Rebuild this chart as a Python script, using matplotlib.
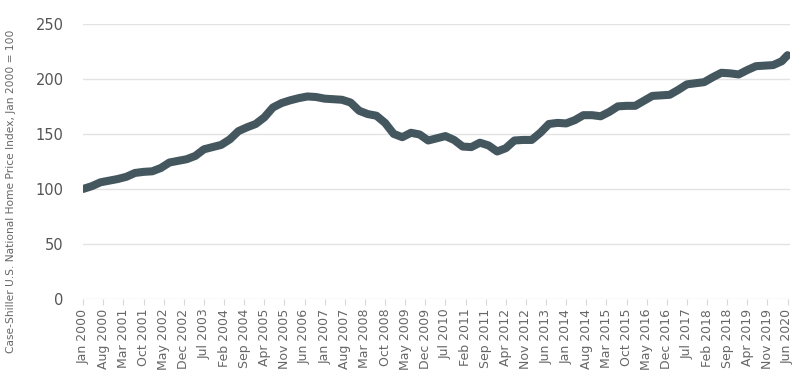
import pandas as pd
import matplotlib
matplotlib.use("Agg")
import matplotlib.pyplot as plt

# quarterly readings of the index (Jan 2000 = 100), last point Jun 2020
dates = pd.date_range("2000-01-01", "2020-04-01", freq="3MS").tolist() + [pd.Timestamp("2020-06-01")]
values = [
    100, 102.5, 106, 107.5,      # 2000
    109, 111, 114.5, 115.5,      # 2001
    116, 119, 124, 125.5,        # 2002
    127, 130, 136, 138,          # 2003
    140, 145, 152.5, 156,        # 2004
    159, 165, 174, 178,          # 2005
    180.5, 182.5, 184, 183.5,    # 2006
    182, 181.5, 181, 178.5,      # 2007
    171, 168, 166.5, 160,        # 2008
    150, 147, 151, 149.5,        # 2009
    144, 146, 148, 144.5,        # 2010
    138.5, 138, 142, 139.5,      # 2011
    134, 137, 144, 144.5,        # 2012
    144.5, 151, 159, 160,        # 2013
    159.5, 162.5, 167, 167,      # 2014
    166, 170, 175, 175.5,        # 2015
    175.5, 180, 184.5, 185,      # 2016
    185.5, 190, 195, 196,        # 2017
    197, 201.5, 205.5, 205,      # 2018
    204, 208, 211.5, 212,        # 2019
    212.5, 216, 221.5,           # 2020
]

tick_dates = pd.date_range("2000-01-01", "2020-06-01", freq="7MS")
y_ticks = [0, 50, 100, 150, 200, 250]
y_label = "Case-Shiller U.S. National Home Price Index, Jan 2000 = 100"


def month_index(d):
    return (d.year - 2000) * 12 + (d.month - 1)


x = [month_index(d) for d in dates]
tick_x = [month_index(d) for d in tick_dates]
tick_labels = [d.strftime("%b %Y") for d in tick_dates]

plt.rcParams["font.family"] = ["DejaVu Sans"]

fig = plt.figure(figsize=(8, 3.78), dpi=100)
ax = fig.add_axes([0.104, 0.209, 0.884, 0.728])

ax.plot(x, values, color="#44575f", lw=5.8, solid_joinstyle="round", solid_capstyle="round", zorder=3)

ax.set_ylim(0, 250)
ax.set_xlim(0, 246)
ax.set_yticks(y_ticks)
ax.set_xticks(tick_x)
ax.set_xticklabels(tick_labels, rotation=90, fontsize=9, color="#666666")
ax.tick_params(axis="y", length=0, pad=14, labelsize=10.5, labelcolor="#555555")
ax.tick_params(axis="x", length=4, color="#d9d9d9", pad=3)

ax.grid(axis="y", color="#e3e3e3", lw=1)
ax.set_axisbelow(True)
for side in ["top", "right", "left", "bottom"]:
    ax.spines[side].set_visible(False)

fig.text(0.014, 0.495, y_label, rotation=90, fontsize=7.7, color="#666666", ha="center", va="center")

fig.savefig("out.png", dpi=100, facecolor="white")
